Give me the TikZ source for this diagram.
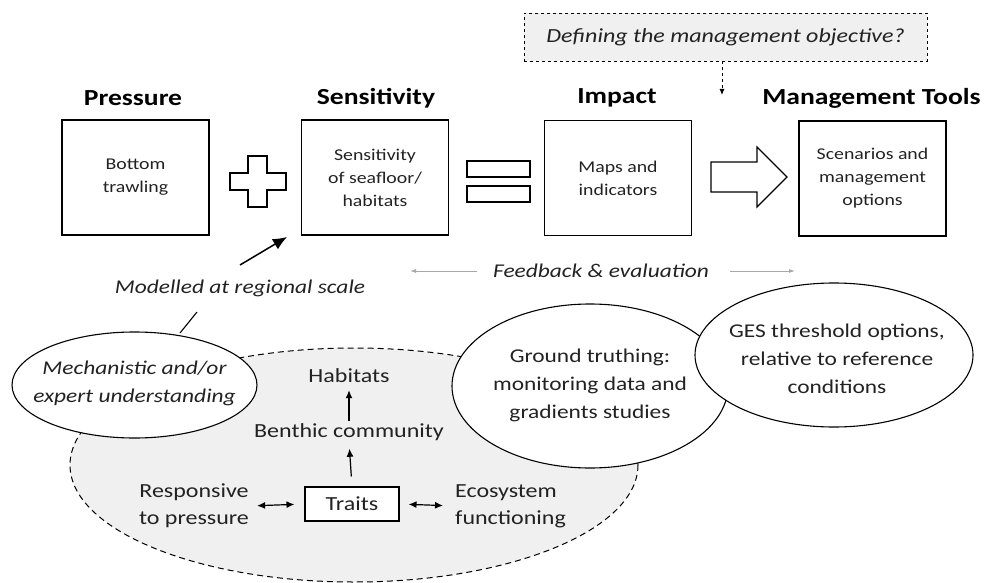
\documentclass[tikz,border=0pt]{standalone}
\usepackage{fontspec}
\setmainfont{Carlito}[FakeStretch=1.2]
\usetikzlibrary{arrows.meta,shapes.geometric}
\definecolor{txt}{HTML}{222222}
\definecolor{fillg}{HTML}{F0F0F0}
\definecolor{fbgray}{HTML}{A8A8A8}
\begin{document}
\begin{tikzpicture}[x=1pt,y=-1pt,
  title/.style={font=\fontsize{23}{27}\selectfont\bfseries, text=black},
  box/.style={draw, line width=1.1pt, minimum width=147pt, minimum height=115pt, align=center,
    font=\fontsize{16.5}{23}\selectfont, text=txt, inner sep=0pt},
  symb/.style={draw, line width=1.1pt, fill=white},
  objbox/.style={draw, dashed, line width=0.9pt, fill=fillg, minimum width=403pt, minimum height=48pt,
    font=\fontsize{20}{24}\selectfont\itshape, text=txt, inner sep=0pt},
  itlabel/.style={font=\fontsize{19.5}{24}\selectfont\itshape, text=txt, inner sep=0pt},
  ell/.style={draw, line width=1.1pt, fill=white},
  elltext/.style={font=\fontsize{19.5}{28}\selectfont, text=txt, align=center, inner sep=0pt},
  intext/.style={font=\fontsize{20}{27}\selectfont, text=txt, inner sep=1pt},
  traitbox/.style={draw, line width=1.1pt, fill=white, minimum width=94pt, minimum height=34pt,
    font=\fontsize{20}{24}\selectfont, text=txt, inner sep=0pt},
  uparr/.style={line width=1.2pt, -{Latex[length=8pt,width=7pt]}},
  dblarr/.style={line width=1.2pt, {Latex[length=8pt,width=7pt]}-{Latex[length=8pt,width=7pt]}},
  fbarrow/.style={draw=fbgray, line width=0.9pt, -{Latex[length=6pt,width=4pt]}}
]
\useasboundingbox (0,0) rectangle (987,583);

% top dashed objective box
\node[objbox] (obj) at (725.5,37) {Defining the management objective?};
\coordinate (objend) at (722,95);
\draw[dashed, line width=0.9pt, -{Latex[length=6pt,width=5pt]}] (obj.south -| objend) -- (objend);

% titles
\node[title] (tP) at (133,98) {Pressure};
\node[title] (tS) at (376,98) {Sensitivity};
\node[title] (tI) at (617,98) {Impact};
\node[title] (tM) at (871.5,98) {Management Tools};

% boxes
\node[box] (press) at (135.5,177.5) {Bottom\\trawling};
\node[box] (sens) at (375,177.5) {Sensitivity\\of seafloor/\\habitats};
\node[box] (imp) at (618,178) {Maps and\\indicators};
\node[box] (mgmt) at (872.5,178.5) {Scenarios and\\management\\options};

% plus
\draw[symb] (248,156) -- (267,156) -- (267,173) -- (286,173) -- (286,190) -- (267,190)
  -- (267,207) -- (248,207) -- (248,190) -- (230,190) -- (230,173) -- (248,173) -- cycle;
% equals
\draw[symb] (467,161) rectangle (530,177);
\draw[symb] (467,186) rectangle (530,202);
% block arrow
\draw[symb] (711,162) -- (757,162) -- (757,147) -- (787,177) -- (757,207) -- (757,192) -- (711,192) -- cycle;

% feedback
\node[itlabel] (fb) at (601,271) {Feedback \& evaluation};
\coordinate (fbL1) at (477,271); \coordinate (fbL2) at (410,271);
\coordinate (fbR1) at (730,271); \coordinate (fbR2) at (795,271);
\draw[fbarrow] (fbL1) -- (fbL2);
\draw[fbarrow] (fbR1) -- (fbR2);

% modelled
\node[itlabel] (mod) at (240,288) {Modelled at regional scale};
\coordinate (modtail) at (240,265);
\coordinate (modtip) at (287,237);
\draw[line width=1.5pt, -{Latex[length=14pt,width=12pt]}] (modtail) -- (modtip);

% big dashed ellipse
\draw[dash pattern=on 6pt off 4pt, line width=1pt, fill=fillg] (354,465) ellipse [x radius=284, y radius=117];

% ellipses
\draw[ell] (134.5,385) ellipse [x radius=122.5, y radius=53];
\draw[ell] (590,386) ellipse [x radius=138, y radius=82];
\draw[ell] (834,355) ellipse [x radius=139, y radius=72];

\node[elltext, font=\fontsize{19.5}{28}\selectfont\itshape] (mech) at (134.5,383) {Mechanistic and/or\\expert understanding};
\coordinate (m1) at (180,333); \coordinate (m2) at (197,312);
\draw[line width=1.1pt] (m1) -- (m2);

\node[elltext] (gt) at (590,385) {Ground truthing:\\monitoring data and\\gradients studies};
\node[elltext] (ges) at (837,359) {GES threshold options,\\relative to reference\\conditions};

% inner content
\node[intext] (hab) at (349,376) {Habitats};
\node[intext] (ben) at (349,432) {Benthic community};
\node[traitbox] (tr) at (352,504) {Traits};
\node[intext, align=center, inner sep=0pt] (resp) at (194,506) {Responsive\\to pressure};
\node[intext, align=left, anchor=west, inner sep=0pt] (eco) at (455,506) {Ecosystem\\functioning};

\draw[uparr, shorten <=1pt, shorten >=6pt] (ben.north) -- (hab.south);
\draw[uparr, shorten <=10pt, shorten >=7pt] (tr.north) -- (ben.south);
\draw[dblarr, shorten <=8pt, shorten >=10pt] (resp.east) -- (tr.west);
\draw[dblarr, shorten <=9pt, shorten >=12pt] (tr.east) -- (eco.west);
\end{tikzpicture}
\end{document}
